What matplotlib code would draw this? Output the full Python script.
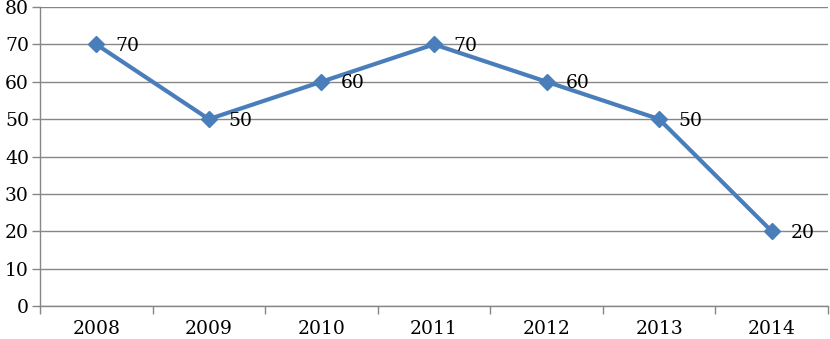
import matplotlib
matplotlib.use("Agg")
import matplotlib.pyplot as plt

years = ["2008", "2009", "2010", "2011", "2012", "2013", "2014"]
values = [70, 50, 60, 70, 60, 50, 20]

plt.rcParams['font.family'] = ['DejaVu Serif']

fig = plt.figure(figsize=(8.30, 3.39), dpi=100)
ax = fig.add_axes([40/830, 1 - 306/339, 788/830, 299/339])

x = list(range(len(years)))
ax.plot(x, values, color="#4A7EBB", lw=3.0, marker="D", markersize=8,
        markerfacecolor="#4A7EBB", markeredgecolor="#4A7EBB", zorder=3, clip_on=False)
for xi, v in zip(x, values):
    ax.annotate(str(v), (xi, v), xytext=(14, -1), textcoords="offset points",
                ha="left", va="center", fontsize=13.5, color="black")

ax.set_xlim(-0.5, len(years) - 0.5)
ax.set_ylim(0, 80)
ax.set_yticks(range(0, 81, 10))
ax.set_yticklabels([str(v) for v in range(0, 81, 10)], fontsize=13.5)
ax.set_xticks(x)
ax.set_xticklabels(years, fontsize=13.5)
ax.set_xticks([i - 0.5 for i in range(len(years) + 1)], minor=True)
ax.tick_params(axis="x", which="major", length=0, pad=10)
ax.tick_params(axis="x", which="minor", length=6, color="#868686", width=1)
ax.tick_params(axis="y", length=6, color="#868686", width=1, pad=2)

ax.grid(axis="y", color="#868686", lw=1)
ax.set_axisbelow(True)
for s in ["top", "right"]:
    ax.spines[s].set_visible(False)
for s in ["left", "bottom"]:
    ax.spines[s].set_color("#868686")
    ax.spines[s].set_linewidth(1)

fig.savefig("out.png", dpi=100)
